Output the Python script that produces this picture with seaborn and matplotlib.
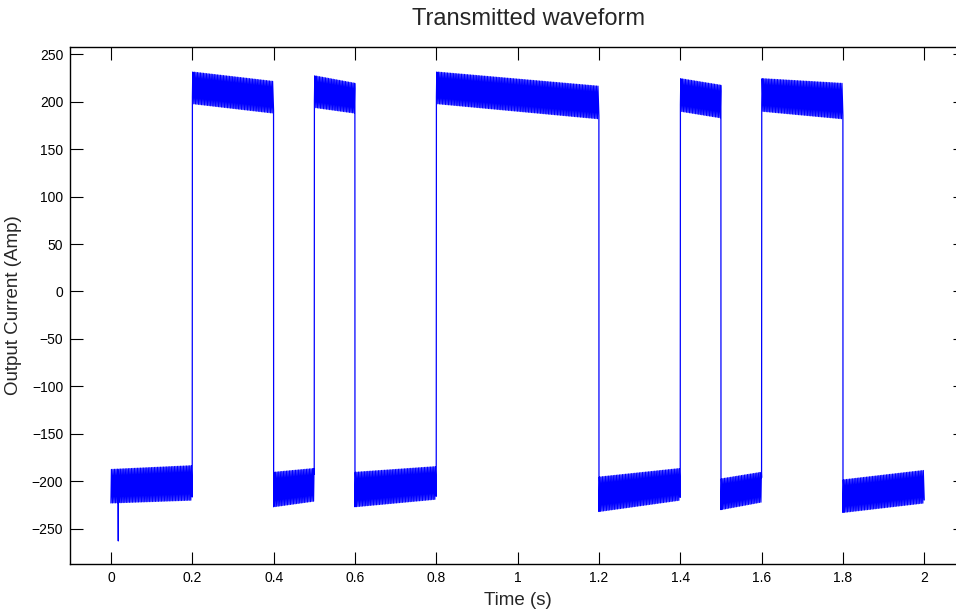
import numpy as np
import pandas as pd
import matplotlib
matplotlib.use("Agg")
import matplotlib.pyplot as plt
import seaborn as sns

# Switching instants of the transmitter (s) and the polarity of each interval
switch_times = [0.0, 0.2, 0.4, 0.5, 0.6, 0.8, 1.2, 1.4, 1.5, 1.6, 1.8, 2.0]
polarity = [-1, 1, -1, 1, -1, 1, -1, 1, -1, 1, -1]

# Ripple band edges (A) at the start and end of each interval
band_top_start = [-187, 232, -190, 228, -190, 232, -195, 225, -197, 225, -198]
band_top_end = [-183, 222, -186, 220, -184, 217, -186, 218, -190, 220, -188]
band_bot_start = [-223, 198, -227, 194, -227, 198, -232, 190, -230, 190, -233]
band_bot_end = [-220, 188, -221, 188, -219, 182, -220, 183, -222, 182, -223]

# Start-up transient
spike_time = 0.018
spike_value = -263

# Inverter ripple frequency (Hz)
ripple_freq = 265.0

sample_rate = ripple_freq * 16
t = np.arange(0.0, 2.0, 1.0 / sample_rate)
current = np.zeros_like(t)
for k in range(len(polarity)):
    t0, t1 = switch_times[k], switch_times[k + 1]
    m = (t >= t0) & (t < t1)
    frac = (t[m] - t0) / (t1 - t0)
    top = band_top_start[k] + (band_top_end[k] - band_top_start[k]) * frac
    bot = band_bot_start[k] + (band_bot_end[k] - band_bot_start[k]) * frac
    mid = 0.5 * (top + bot)
    half = 0.5 * (top - bot)
    # sawtooth-like ripple: fast rise, slower decay
    phase = ((t[m] - t0) * ripple_freq) % 1.0
    saw = np.where(phase < 0.3, -1 + 2 * phase / 0.3, 1 - 2 * (phase - 0.3) / 0.7)
    current[m] = mid + half * saw

# insert the start-up spike
idx = np.argmin(np.abs(t - spike_time))
t = np.insert(t, idx, [spike_time, spike_time + 1e-6])
current = np.insert(current, idx, [spike_value, current[idx]])

df = pd.DataFrame({"Time (s)": t, "Output Current (Amp)": current})

sns.set_style("ticks")
plt.rcParams["font.family"] = ["Liberation Sans", "DejaVu Sans"]

fig = plt.figure(figsize=(9.56, 6.11), dpi=100)
ax_left, ax_right = 70.3, 965.0
ax_top, ax_bottom = 47.3, 563.7
ax = fig.add_axes([ax_left / 956, (611 - ax_bottom) / 611,
                   (ax_right - ax_left) / 956, (ax_bottom - ax_top) / 611])

sns.lineplot(data=df, x="Time (s)", y="Output Current (Amp)", ax=ax,
             color="#0000ff", linewidth=0.9, estimator=None, sort=False)

ax.set_xlim(-0.1, 2.1)
ax.set_ylim(-287, 257.4)
ax.set_xticks(np.arange(0, 2.01, 0.2))
ax.set_xticklabels(["0", "0.2", "0.4", "0.6", "0.8", "1", "1.2", "1.4", "1.6", "1.8", "2"])
ax.set_yticks(np.arange(-250, 251, 50))

for s in ax.spines.values():
    s.set_visible(True)
    s.set_linewidth(1.0)
    s.set_color("black")
ax.tick_params(direction="in", length=9, width=0.8, top=True, right=True,
               labelsize=10, pad=5, colors="black")

ax.set_xlabel("Time (s)", fontsize=13.5, labelpad=5)
ax.set_ylabel("Output Current (Amp)", fontsize=13.5, labelpad=7)
ax.set_title("Transmitted waveform", fontsize=17, pad=16,
             x=(529 - ax_left) / (ax_right - ax_left))

fig.savefig("out.png", dpi=100)
